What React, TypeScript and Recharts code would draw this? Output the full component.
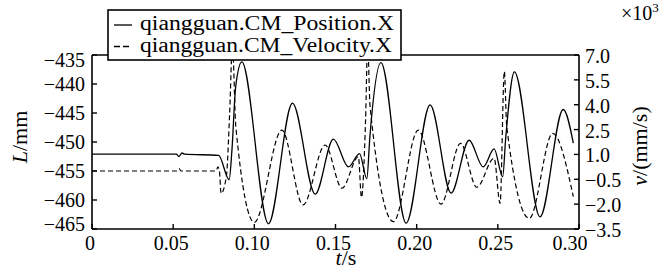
import { ComposedChart, Line, XAxis, YAxis, ReferenceLine, Legend } from "recharts";

const FONT = "Liberation Serif, Times New Roman, serif";

// position curve, t in s, L in mm
const posTime = [
  0, 0.052, 0.0535, 0.0555, 0.057, 0.078, 0.0845, 0.0862, 0.0885, 0.0923, 0.1087, 0.1235, 0.1375,
  0.1487, 0.158, 0.1648, 0.1693, 0.1712, 0.178, 0.1935, 0.2083, 0.2212, 0.2323, 0.241, 0.2477,
  0.253, 0.2548, 0.2602, 0.276, 0.2903, 0.2965,
];
const posValue = [
  -452.1, -452.1, -452.5, -451.9, -452.1, -452.3, -456.5, -451.4, -440.5, -436.2, -464.1, -443.3,
  -459.0, -449.5, -454.3, -452.0, -456.3, -449.0, -436.3, -464.0, -443.6, -458.8, -449.7, -454.3,
  -451.2, -456.0, -449.5, -437.9, -462.9, -444.4, -450.2,
];

// velocity curve, t in s, v in 10^3 mm/s
const velTime = [
  0, 0.052, 0.0535, 0.055, 0.0765, 0.0775, 0.0785, 0.0795, 0.0828, 0.0848, 0.0865, 0.0886, 0.1,
  0.117, 0.13, 0.1436, 0.154, 0.1641, 0.166, 0.1685, 0.1698, 0.1713, 0.1857, 0.201, 0.215, 0.227,
  0.237, 0.2477, 0.2514, 0.254, 0.2555, 0.2694, 0.2838, 0.2965,
];
const velValue = [
  0, 0, 0.15, 0, 0, 0.25, 0, -1.35, -0.3, 3.5, 7.6, 2.67, -3.1, 2.47, -2.05, 1.57, -1.04, 0.86,
  -1.6, 3.0, 7.6, 3.9, -3.06, 2.47, -2.0, 1.67, -0.98, 0.77, -1.95, 6.0, 2.67, -2.86, 2.27, -1.55,
];

const xTicks = [0, 0.05, 0.1, 0.15, 0.2, 0.25, 0.3];
const leftTicks = [-435, -440, -445, -450, -455, -460, -465];
const rightTicks = [7, 5.5, 4, 2.5, 1, -0.5, -2, -3.5];
const seriesNames = ["qiangguan.CM_Position.X", "qiangguan.CM_Velocity.X"];

const positionData = posTime.map((t, i) => ({ t, L: posValue[i] }));
const velocityData = velTime.map((t, i) => ({ t, v: velValue[i] }));

const neg = (s: string) => s.replace("-", "\u2212");

function XTick(props: any) {
  const { x, y, payload } = props;
  const v = payload.value as number;
  const label = v === 0 ? "0" : v.toFixed(2);
  const dx = v === 0.3 ? -9 : -2;
  return (
    <text x={x + dx} y={y} textAnchor="middle" fontSize={20} fontFamily={FONT} fill="#000">
      {label}
    </text>
  );
}

function LeftTick(props: any) {
  const { x, y, payload } = props;
  const v = payload.value as number;
  const shift = v === -435 ? 5 : v === -465 ? -5 : 0;
  return (
    <text x={x} y={y + shift} dy="0.35em" textAnchor="end" fontSize={20} fontFamily={FONT} fill="#000">
      {neg(String(v))}
    </text>
  );
}

function RightTick(props: any) {
  const { x, y, payload } = props;
  const v = payload.value as number;
  return (
    <text x={x} y={y + 1} dy="0.35em" textAnchor="start" fontSize={20} fontFamily={FONT} fill="#000">
      {neg(v.toFixed(1))}
    </text>
  );
}

function LegendBox() {
  return (
    <svg width={296} height={53} style={{ display: "block" }}>
      <rect x={1} y={1} width={293} height={50} fill="#fff" stroke="#000" strokeWidth={1.6} />
      <line x1={7} x2={25} y1={16} y2={16} stroke="#000" strokeWidth={1.3} />
      <line x1={7} x2={25} y1={37.5} y2={37.5} stroke="#000" strokeWidth={1.3} strokeDasharray="6 3" />
      <text x={33} y={21} fontSize={20} fontFamily={FONT} textLength={254} lengthAdjust="spacingAndGlyphs">
        {seriesNames[0]}
      </text>
      <text x={33} y={43} fontSize={20} fontFamily={FONT} textLength={252} lengthAdjust="spacingAndGlyphs">
        {seriesNames[1]}
      </text>
    </svg>
  );
}

const leftTitle = () => (
  <text transform="rotate(-90, 27, 137)" x={27} y={137} textAnchor="middle" fontSize={22} fontFamily={FONT} fill="#000">
    <tspan fontStyle="italic">L</tspan>/mm
  </text>
);

const rightTitle = () => (
  <g>
    <text transform="rotate(-90, 647, 146)" x={647} y={146} textAnchor="middle" fontSize={22} fontFamily={FONT} fill="#000">
      <tspan fontStyle="italic">v</tspan>/(mm/s)
    </text>
    <text x={621} y={20} fontSize={20} fontFamily={FONT} fill="#000">
      ×10
      <tspan fontSize={13} dy={-8}>3</tspan>
    </text>
  </g>
);

const bottomTitle = () => (
  <text x={346} y={265} textAnchor="middle" fontSize={22} fontFamily={FONT} fill="#000">
    <tspan fontStyle="italic">t</tspan>/s
  </text>
);

export default function App() {
  return (
    <div style={{ position: "absolute", left: 0, top: 0, width: 665, height: 269, background: "#fff" }}>
      <ComposedChart width={665} height={269} margin={{ top: 55, right: 0, bottom: 0, left: 0 }}>
        <XAxis
          xAxisId="x"
          type="number"
          dataKey="t"
          domain={[0, 0.3]}
          ticks={xTicks}
          interval={0}
          height={40}
          tickSize={-5}
          tickMargin={26}
          tick={<XTick />}
          axisLine={{ stroke: "#000", strokeWidth: 1.6 }}
          tickLine={{ stroke: "#000", strokeWidth: 1.4 }}
          label={bottomTitle}
        />
        <YAxis
          yAxisId="left"
          orientation="left"
          type="number"
          domain={[-465, -435]}
          ticks={leftTicks}
          interval={0}
          width={92}
          tickSize={-5}
          tickMargin={12}
          tick={<LeftTick />}
          axisLine={{ stroke: "#000", strokeWidth: 1.6 }}
          tickLine={{ stroke: "#000", strokeWidth: 1.4 }}
          label={leftTitle}
        />
        <YAxis
          yAxisId="right"
          orientation="right"
          type="number"
          domain={[-3.5, 7]}
          allowDataOverflow
          ticks={rightTicks}
          interval={0}
          width={86}
          tickSize={-5}
          tickMargin={11}
          tick={<RightTick />}
          axisLine={{ stroke: "#000", strokeWidth: 1.6 }}
          tickLine={{ stroke: "#000", strokeWidth: 1.4 }}
          label={rightTitle}
        />
        <ReferenceLine xAxisId="x" yAxisId="left" y={-435} stroke="#000" strokeWidth={1.6} />
        <Line
          xAxisId="x"
          yAxisId="right"
          data={velocityData}
          dataKey="v"
          type="monotone"
          stroke="#000"
          strokeWidth={1.2}
          strokeDasharray="5 3"
          dot={false}
          isAnimationActive={false}
        />
        <Line
          xAxisId="x"
          yAxisId="left"
          data={positionData}
          dataKey="L"
          type="monotone"
          stroke="#000"
          strokeWidth={1.3}
          dot={false}
          isAnimationActive={false}
        />
        <Legend
          layout="horizontal"
          verticalAlign="middle"
          align="center"
          content={<LegendBox />}
          wrapperStyle={{ top: 9, left: 107, width: 296, height: 53 }}
        />
      </ComposedChart>
    </div>
  );
}
